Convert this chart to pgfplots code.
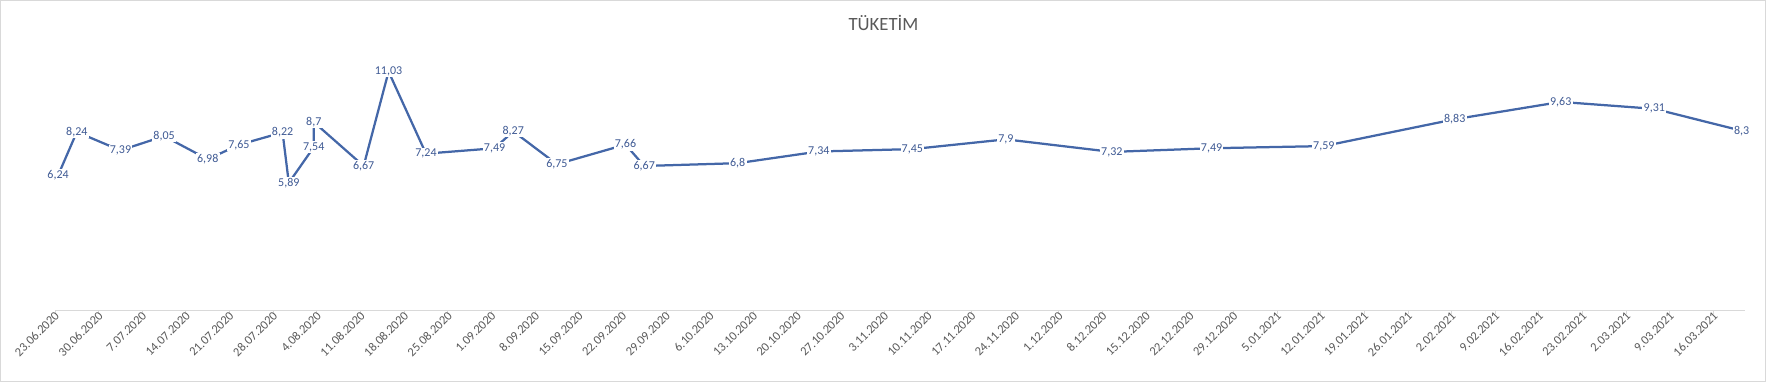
\documentclass[border=0pt]{standalone}
\usepackage{pgfplots}
\pgfplotsset{compat=1.18}
\usepackage{pgfplotstable}
\usepackage{fontspec}
\setmainfont{Carlito}
\definecolor{linecol}{HTML}{4467A8}
\definecolor{labcol}{HTML}{3F5A94}
\definecolor{axcol}{HTML}{D9D9D9}
\definecolor{txtcol}{HTML}{595959}
% x = days since 23.06.2020 + 0.5 (Excel date axis, between tick marks)
\pgfplotstableread{
x y
0.5 6.24
3.5 8.24
10.5 7.39
17.5 8.05
24.5 6.98
29.5 7.65
36.5 8.22
37.5 5.89
41.5 7.54
41.5 8.7
49.5 6.67
53.5 11.03
59.5 7.24
70.5 7.49
73.5 8.27
80.5 6.75
91.5 7.66
94.5 6.67
109.5 6.8
122.5 7.34
137.5 7.45
152.5 7.9
169.5 7.32
185.5 7.49
203.5 7.59
224.5 8.83
241.5 9.63
256.5 9.31
270.5 8.3
}\datatable
\begin{document}
\begin{tikzpicture}
\path[use as bounding box] (0,0) rectangle (1767bp,382bp);
\draw[axcol, line width=1bp] (0.5bp,0.5bp) rectangle (1765.5bp,381.5bp);
\node[font=\fontsize{18.7bp}{22bp}\selectfont, text=txtcol] at (883.5bp,359.3bp) {TÜKETİM};
\begin{axis}[
  at={(55bp,71.6bp)}, anchor=south west,
  width=1689.7bp, height=259.8bp, scale only axis,
  xmin=0, xmax=271, ymin=0, ymax=12,
  clip=false,
  axis y line=none,
  axis x line*=bottom,
  x axis line style={axcol, line width=1bp, -},
  xtick={0,7,...,266},
  xticklabels={23.06.2020,30.06.2020,7.07.2020,14.07.2020,21.07.2020,28.07.2020,4.08.2020,11.08.2020,18.08.2020,25.08.2020,1.09.2020,8.09.2020,15.09.2020,22.09.2020,29.09.2020,6.10.2020,13.10.2020,20.10.2020,27.10.2020,3.11.2020,10.11.2020,17.11.2020,24.11.2020,1.12.2020,8.12.2020,15.12.2020,22.12.2020,29.12.2020,5.01.2021,12.01.2021,19.01.2021,26.01.2021,2.02.2021,9.02.2021,16.02.2021,23.02.2021,2.03.2021,9.03.2021,16.03.2021},
  tick align=outside,
  major tick length=4bp,
  xtick style={axcol, line width=1bp},
  xticklabel style={rotate=45, anchor=east, xshift=3bp, yshift=-1bp, font=\fontsize{12.5bp}{14bp}\selectfont, text=txtcol, inner sep=1bp},
  ytick=\empty,
  /pgf/number format/.cd, use comma, 1000 sep={}, assume math mode=true,
  /pgfplots/.cd,
]
\addplot[linecol, line width=2.25bp, line join=round, mark=none,
  nodes near coords, nodes near coords align={center},
  every node near coord/.append style={anchor=center, fill=white, inner sep=1.2bp,
    font=\fontsize{12bp}{14bp}\selectfont, text=labcol}]
  table[x=x, y=y] {\datatable};
\end{axis}
\end{tikzpicture}
\end{document}
